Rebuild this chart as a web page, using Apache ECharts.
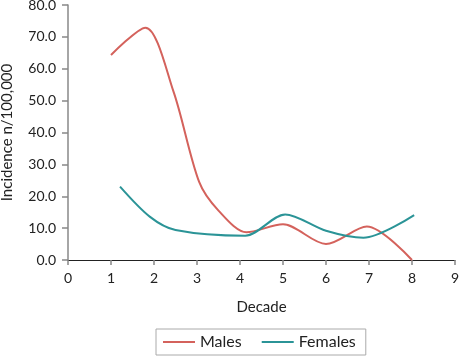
<!DOCTYPE html>
<html><head><meta charset="utf-8">
<script src="https://cdn.jsdelivr.net/npm/echarts@6/dist/echarts.min.js"></script>
<style>html,body{margin:0;padding:0;background:#fff}#c{width:459px;height:358px}</style>
</head><body><div id="c"></div>
<script>
const seriesNames = ["Males", "Females"];
const malesX = [1, 1.8, 2.45, 3.05, 3.5, 4.15, 5, 6, 6.95, 8];
const malesY = [64.3, 72.9, 53, 24.5, 15.5, 8.7, 11.2, 5, 10.5, 0];
const femalesX = [1.21, 1.9, 2.5, 4.12, 5.05, 6, 6.87, 8.05];
const femalesY = [23, 13.6, 9.4, 7.6, 14.3, 9.2, 7.0, 14.1];
const yTicks = [0, 10, 20, 30, 40, 50, 60, 70, 80];
const xTicks = [0, 1, 2, 3, 4, 5, 6, 7, 8, 9];

const font = "Lato, 'Open Sans', sans-serif";
const zip = (xs, ys) => xs.map((x, i) => [x, ys[i]]);
const chart = echarts.init(document.getElementById('c'), null, {renderer: 'canvas'});
chart.setOption({
  animation: false,
  textStyle: {fontFamily: font},
  grid: {left: 68, right: 4, top: 5, bottom: 98, containLabel: false, outerBoundsMode: 'none'},
  legend: {
    data: seriesNames, left: 156, top: 329, height: 20,
    icon: 'rect', itemWidth: 32, itemHeight: 2, itemGap: 20,
    borderColor: '#aaaaaa', borderWidth: 1, padding: [5, 10, 5, 7],
    textStyle: {fontFamily: font, fontSize: 16, color: '#222'}
  },
  xAxis: {
    type: 'value', min: xTicks[0], max: xTicks[xTicks.length - 1], interval: 1,
    name: 'Decade', nameLocation: 'middle', nameGap: 40,
    nameTextStyle: {fontSize: 15, color: '#222', fontFamily: font},
    axisLine: {lineStyle: {color: '#222', width: 1.2}},
    axisTick: {show: true, length: 5, lineStyle: {color: '#888', width: 1.5}},
    axisLabel: {fontSize: 14, color: '#222', margin: 11, fontFamily: font},
    splitLine: {show: false}
  },
  yAxis: {
    type: 'value', min: yTicks[0], max: yTicks[yTicks.length - 1], interval: 10,
    name: 'Incidence n/100,000', nameLocation: 'middle', nameGap: 53,
    nameTextStyle: {fontSize: 15, color: '#222', fontFamily: font},
    axisLine: {show: true, lineStyle: {color: '#888', width: 1.5}},
    axisTick: {show: true, length: 6, lineStyle: {color: '#888', width: 1.5}},
    axisLabel: {fontSize: 14, color: '#222', margin: 12, fontFamily: font,
      formatter: v => v.toFixed(1)},
    splitLine: {show: false}
  },
  series: [
    {name: seriesNames[0], type: 'line', smooth: 0.3, symbol: 'none',
     data: zip(malesX, malesY), lineStyle: {color: '#d4625c', width: 2}, itemStyle: {color: '#d4625c'}},
    {name: seriesNames[1], type: 'line', smooth: 0.3, symbol: 'none',
     data: zip(femalesX, femalesY), lineStyle: {color: '#2b9497', width: 2}, itemStyle: {color: '#2b9497'}}
  ]
});
</script></body></html>
